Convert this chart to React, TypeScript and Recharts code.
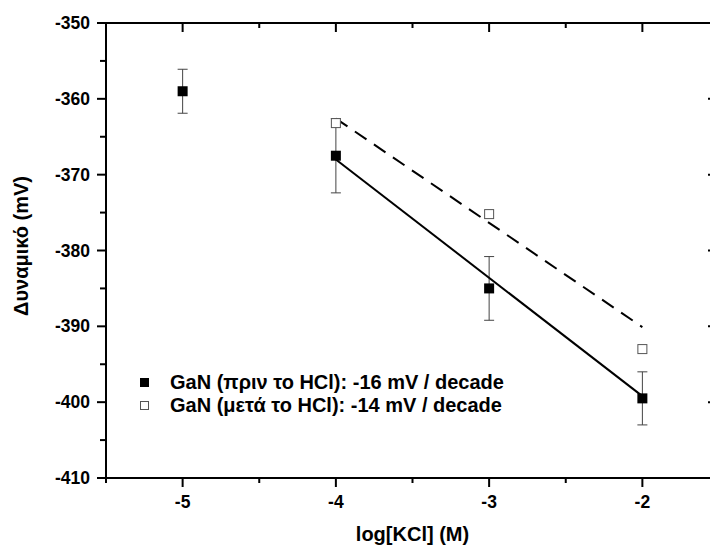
import React from 'react';
import { ComposedChart, Scatter, XAxis, YAxis, ErrorBar, Legend } from 'recharts';

const FONT = '"Liberation Sans", Arial, Helvetica, sans-serif';

const concBefore = [-5, -4, -3, -2];
const potBefore = [-359, -367.5, -385, -399.5];
const errBefore = [2.9, 4.9, 4.2, 3.5];
const concAfter = [-4, -3, -2];
const potAfter = [-363.2, -375.2, -393.0];
const fitX = [-4, -2];
const fitBefore = [-368.0, -399.2];
const fitAfter = [-362.6, -390.1];
const xTicks = [-5.5, -5, -4.5, -4, -3.5, -3, -2.5, -2, -1.5];
const yTicks = [-410, -405, -400, -395, -390, -385, -380, -375, -370, -365, -360, -355, -350];
const seriesNames = ['GaN (πριν το HCl): -16 mV / decade', 'GaN (μετά το HCl): -14 mV / decade'];
const xTitle = 'log[KCl] (M)';
const yTitle = 'Δυναμικό (mV)';

const beforeData = concBefore.map((x, i) => ({ x, y: potBefore[i], e: errBefore[i] }));
const afterData = concAfter.map((x, i) => ({ x, y: potAfter[i] }));
const fitBeforeData = fitX.map((x, i) => ({ x, y: fitBefore[i] }));
const fitAfterData = fitX.map((x, i) => ({ x, y: fitAfter[i] }));

const textProps = { fontFamily: FONT, fontWeight: 'bold' as const, fill: '#000' };
const TICK_FS = 17.5;
const TITLE_FS = 20;

const BottomTick = (p: any) => {
  const { x, y, payload } = p;
  const v = payload.value;
  const major = Number.isInteger(v);
  return (
    <g>
      <line x1={x} x2={x} y1={y} y2={y + (major ? 9 : 5)} stroke="#000" strokeWidth={2} />
      {major && (
        <text x={x} y={y + 30} textAnchor="middle" fontSize={TICK_FS} {...textProps}>
          {v}
        </text>
      )}
    </g>
  );
};

const TopTick = (p: any) => {
  const { x, y, payload } = p;
  const major = Number.isInteger(payload.value);
  return <line x1={x} x2={x} y1={y} y2={y + (major ? 9 : 5)} stroke="#000" strokeWidth={2} />;
};

const LeftTick = (p: any) => {
  const { x, y, payload } = p;
  const v = payload.value;
  const major = v % 10 === 0;
  return (
    <g>
      <line x1={x - (major ? 9 : 6)} x2={x} y1={y} y2={y} stroke="#000" strokeWidth={2} />
      {major && (
        <text x={x - 16} y={y + 6} textAnchor="end" fontSize={TICK_FS} {...textProps}>
          {v}
        </text>
      )}
    </g>
  );
};

const RightTick = (p: any) => {
  const { x, y, payload } = p;
  const major = payload.value % 10 === 0;
  return <line x1={x - (major ? 11 : 5)} x2={x} y1={y} y2={y} stroke="#000" strokeWidth={2} />;
};

const FilledSquare = (p: any) => {
  const { cx, cy } = p;
  if (cx == null || cy == null) return <g />;
  return <rect x={cx - 5} y={cy - 5} width={10} height={10} fill="#000" />;
};

const OpenSquare = (p: any) => {
  const { cx, cy } = p;
  if (cx == null || cy == null) return <g />;
  return <rect x={cx - 4.5} y={cy - 4.5} width={9} height={9} fill="#fff" stroke="#555" strokeWidth={1} />;
};

const NoShape = () => <g />;

const LegendContent = () => (
  <div style={{ fontFamily: FONT, fontWeight: 'bold', fontSize: TITLE_FS, color: '#000' }}>
    {seriesNames.map((name, i) => (
      <div key={name} style={{ display: 'flex', alignItems: 'center', height: 23, whiteSpace: 'nowrap' }}>
        <span
          style={{
            display: 'inline-block',
            boxSizing: 'border-box',
            width: 9,
            height: 9,
            background: i === 0 ? '#000' : '#fff',
            border: i === 0 ? 'none' : '1px solid #555',
            marginRight: 21,
          }}
        />
        <span>{name}</span>
      </div>
    ))}
  </div>
);

export default function App() {
  return (
    <div style={{ position: 'absolute', left: 0, top: 0, width: 710, height: 549, overflow: 'hidden', background: '#fff' }}>
      <ComposedChart width={730} height={549} margin={{ top: 0, right: 0, bottom: 0, left: 0 }}>
        <XAxis
          type="number"
          dataKey="x"
          domain={[-5.5, -1.5]}
          ticks={xTicks}
          interval={0}
          tickSize={0}
          tickMargin={0}
          tickLine={false}
          tick={(p: any) => <BottomTick {...p} />}
          axisLine={{ stroke: '#000', strokeWidth: 2 }}
          height={71}
          allowDataOverflow
          label={{
            content: (lp: any) => {
              const vb = lp.viewBox || { x: 106, y: 478, width: 613, height: 71 };
              return (
                <text x={vb.x + vb.width / 2} y={vb.y + 63} textAnchor="middle" fontSize={TITLE_FS} {...textProps}>
                  {xTitle}
                </text>
              );
            },
          }}
        />
        <XAxis
          xAxisId="top"
          orientation="top"
          type="number"
          dataKey="x"
          domain={[-5.5, -1.5]}
          ticks={xTicks}
          interval={0}
          tickSize={0}
          tickMargin={0}
          tickLine={false}
          tick={(p: any) => <TopTick {...p} />}
          axisLine={{ stroke: '#000', strokeWidth: 2 }}
          height={23}
          allowDataOverflow
        />
        <YAxis
          type="number"
          dataKey="y"
          domain={[-410, -350]}
          ticks={yTicks}
          interval={0}
          tickSize={0}
          tickMargin={0}
          tickLine={false}
          tick={(p: any) => <LeftTick {...p} />}
          axisLine={{ stroke: '#000', strokeWidth: 2 }}
          width={106}
          allowDataOverflow
          label={{
            content: () => (
              <text transform="translate(28,246) rotate(-90)" x={0} y={0} textAnchor="middle" fontSize={TITLE_FS} {...textProps}>
                {yTitle}
              </text>
            ),
          }}
        />
        <YAxis
          yAxisId="right"
          orientation="right"
          type="number"
          dataKey="y"
          domain={[-410, -350]}
          ticks={yTicks}
          interval={0}
          tickSize={0}
          tickMargin={0}
          tickLine={false}
          tick={(p: any) => <RightTick {...p} />}
          axisLine={{ stroke: '#000', strokeWidth: 2 }}
          width={11}
          allowDataOverflow
        />
        <Legend
          layout="horizontal"
          verticalAlign="middle"
          align="center"
          content={() => <LegendContent />}
          wrapperStyle={{ left: 140, top: 371, width: 420 }}
        />
        <Scatter
          name="fitAfter"
          data={fitAfterData}
          line={{ stroke: '#000', strokeWidth: 2, strokeDasharray: '14 9' }}
          shape={NoShape}
          legendType="none"
          isAnimationActive={false}
        />
        <Scatter
          name="fitBefore"
          data={fitBeforeData}
          line={{ stroke: '#000', strokeWidth: 2 }}
          shape={NoShape}
          legendType="none"
          isAnimationActive={false}
        />
        <Scatter name={seriesNames[1]} data={afterData} shape={OpenSquare} isAnimationActive={false} />
        <Scatter name={seriesNames[0]} data={beforeData} shape={FilledSquare} isAnimationActive={false}>
          <ErrorBar dataKey="e" direction="y" width={5} stroke="#444" strokeWidth={1} isAnimationActive={false} />
        </Scatter>
      </ComposedChart>
    </div>
  );
}
